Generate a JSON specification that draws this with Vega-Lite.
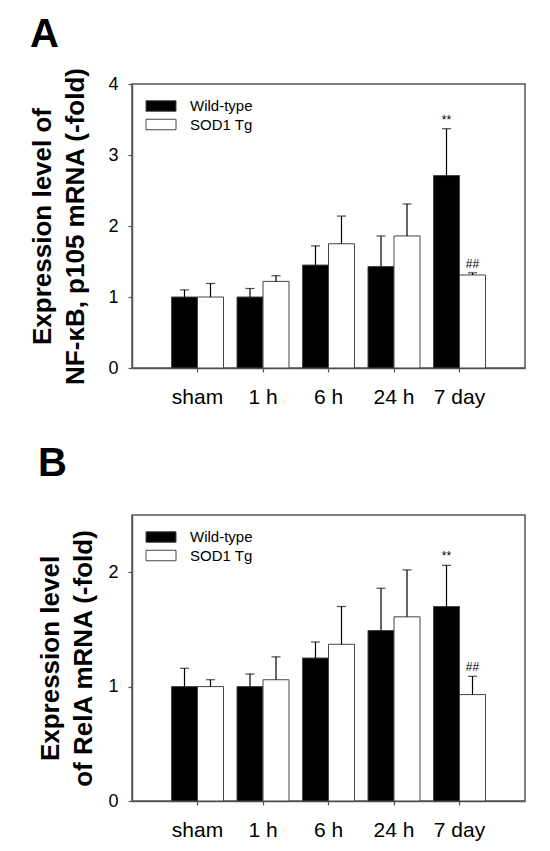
{
  "$schema": "https://vega.github.io/schema/vega-lite/v6.json",
  "background": "white",
  "padding": {"left": 29, "top": 14, "right": 5, "bottom": 5},
  "spacing": 35,
  "config": {
    "font": "Liberation Sans",
    "view": {"stroke": "#555", "strokeWidth": 1.5},
    "axis": {"domainColor": "#555", "domainWidth": 1.5, "tickColor": "#555", "tickWidth": 1.2, "tickSize": 4, "labelColor": "#000", "grid": false, "labelFont": "Liberation Sans"},
    "axisX": {"labelFontSize": 21, "labelPadding": 14, "labelAngle": 0, "title": null},
    "axisY": {"labelFontSize": 18, "labelPadding": 10, "format": "d", "titleFontSize": 26, "titleFontWeight": "bold", "titleColor": "#000", "titleLineHeight": 33},
    "legend": {"orient": "none", "legendX": 21, "legendY": 14, "title": null, "labelFontSize": 15, "labelOffset": 21, "rowPadding": 2.5, "symbolType": "M-2,-0.7H2V0.7H-2Z", "symbolSize": 225, "symbolStrokeColor": "#444", "symbolStrokeWidth": 1, "labelColor": "#000"},
    "title": {"anchor": "start", "frame": "bounds", "fontSize": 40, "fontWeight": "bold", "color": "#000", "baseline": "alphabetic"}
  },
  "datasets": {
    "a": [
      {"time": "sham", "group": "Wild-type", "mean": 1.0, "err": 1.10, "sig": ""},
      {"time": "sham", "group": "SOD1 Tg", "mean": 1.0, "err": 1.19, "sig": ""},
      {"time": "1 h", "group": "Wild-type", "mean": 1.0, "err": 1.12, "sig": ""},
      {"time": "1 h", "group": "SOD1 Tg", "mean": 1.22, "err": 1.30, "sig": ""},
      {"time": "6 h", "group": "Wild-type", "mean": 1.45, "err": 1.72, "sig": ""},
      {"time": "6 h", "group": "SOD1 Tg", "mean": 1.75, "err": 2.14, "sig": ""},
      {"time": "24 h", "group": "Wild-type", "mean": 1.43, "err": 1.86, "sig": ""},
      {"time": "24 h", "group": "SOD1 Tg", "mean": 1.86, "err": 2.31, "sig": ""},
      {"time": "7 day", "group": "Wild-type", "mean": 2.71, "err": 3.37, "sig": "**"},
      {"time": "7 day", "group": "SOD1 Tg", "mean": 1.31, "err": 1.34, "sig": "##"}
    ],
    "b": [
      {"time": "sham", "group": "Wild-type", "mean": 1.0, "err": 1.16, "sig": ""},
      {"time": "sham", "group": "SOD1 Tg", "mean": 1.0, "err": 1.06, "sig": ""},
      {"time": "1 h", "group": "Wild-type", "mean": 1.0, "err": 1.11, "sig": ""},
      {"time": "1 h", "group": "SOD1 Tg", "mean": 1.06, "err": 1.26, "sig": ""},
      {"time": "6 h", "group": "Wild-type", "mean": 1.25, "err": 1.39, "sig": ""},
      {"time": "6 h", "group": "SOD1 Tg", "mean": 1.37, "err": 1.70, "sig": ""},
      {"time": "24 h", "group": "Wild-type", "mean": 1.49, "err": 1.86, "sig": ""},
      {"time": "24 h", "group": "SOD1 Tg", "mean": 1.61, "err": 2.02, "sig": ""},
      {"time": "7 day", "group": "Wild-type", "mean": 1.70, "err": 2.06, "sig": "**"},
      {"time": "7 day", "group": "SOD1 Tg", "mean": 0.93, "err": 1.09, "sig": "##"}
    ]
  },
  "vconcat": [
    {
      "title": {"text": "A", "offset": 12},
      "width": 393,
      "height": 284,
      "data": {"name": "a"},
      "encoding": {
        "x": {"field": "time", "type": "nominal", "sort": ["sham", "1 h", "6 h", "24 h", "7 day"], "scale": {"paddingInner": 0.206, "paddingOuter": 0.603}},
        "xOffset": {"field": "group", "type": "nominal", "sort": ["Wild-type", "SOD1 Tg"]}
      },
      "layer": [
        {
          "mark": {"type": "bar", "stroke": "#444", "strokeWidth": 1},
          "encoding": {
            "y": {"field": "mean", "type": "quantitative", "scale": {"domain": [0, 4], "nice": false}, "axis": {"values": [0, 1, 2, 3, 4], "titlePadding": 19, "title": ["Expression level of", "NF-κB, p105 mRNA (-fold)"]}},
            "fill": {"field": "group", "type": "nominal", "sort": ["Wild-type", "SOD1 Tg"], "scale": {"range": ["#000000", "#ffffff"]}}
          }
        },
        {
          "mark": {"type": "rule", "color": "#000", "strokeWidth": 1.2},
          "encoding": {"y": {"field": "mean", "type": "quantitative"}, "y2": {"field": "err"}}
        },
        {
          "mark": {"type": "tick", "color": "#000", "size": 9, "thickness": 1.2},
          "encoding": {"y": {"field": "err", "type": "quantitative"}}
        },
        {
          "transform": [{"filter": "datum.sig != ''"}],
          "mark": {"type": "text", "fontSize": 12, "baseline": "middle", "dy": -9, "color": "#000"},
          "encoding": {"y": {"field": "err", "type": "quantitative"}, "text": {"field": "sig"}}
        }
      ]
    },
    {
      "title": {"text": "B", "offset": 31},
      "width": 393,
      "height": 286,
      "data": {"name": "b"},
      "encoding": {
        "x": {"field": "time", "type": "nominal", "sort": ["sham", "1 h", "6 h", "24 h", "7 day"], "scale": {"paddingInner": 0.206, "paddingOuter": 0.603}},
        "xOffset": {"field": "group", "type": "nominal", "sort": ["Wild-type", "SOD1 Tg"]}
      },
      "layer": [
        {
          "mark": {"type": "bar", "stroke": "#444", "strokeWidth": 1},
          "encoding": {
            "y": {"field": "mean", "type": "quantitative", "scale": {"domain": [0, 2.5], "nice": false}, "axis": {"values": [0, 1, 2], "titlePadding": 11, "title": ["Expression level", "of RelA mRNA (-fold)"]}},
            "fill": {"field": "group", "type": "nominal", "sort": ["Wild-type", "SOD1 Tg"], "scale": {"range": ["#000000", "#ffffff"]}}
          }
        },
        {
          "mark": {"type": "rule", "color": "#000", "strokeWidth": 1.2},
          "encoding": {"y": {"field": "mean", "type": "quantitative"}, "y2": {"field": "err"}}
        },
        {
          "mark": {"type": "tick", "color": "#000", "size": 9, "thickness": 1.2},
          "encoding": {"y": {"field": "err", "type": "quantitative"}}
        },
        {
          "transform": [{"filter": "datum.sig != ''"}],
          "mark": {"type": "text", "fontSize": 12, "baseline": "middle", "dy": -9, "color": "#000"},
          "encoding": {"y": {"field": "err", "type": "quantitative"}, "text": {"field": "sig"}}
        }
      ]
    }
  ],
  "resolve": {"scale": {"fill": "independent"}, "legend": {"fill": "independent"}}
}
